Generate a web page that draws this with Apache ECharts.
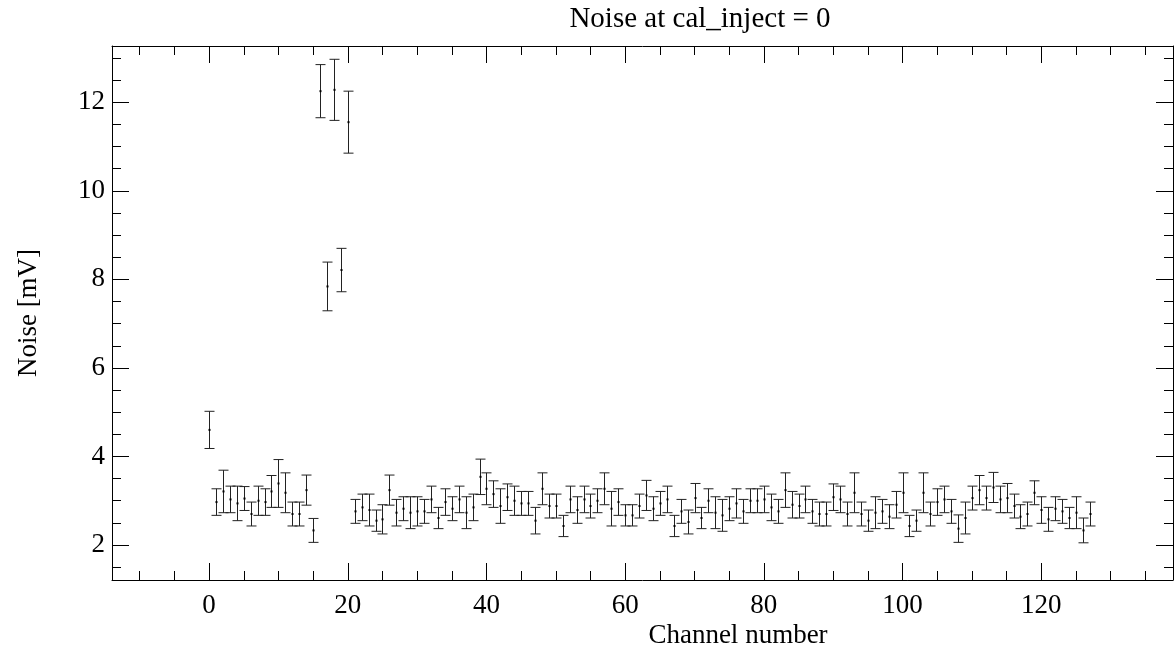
<!DOCTYPE html>
<html>
<head>
<meta charset="utf-8">
<script src="https://cdn.jsdelivr.net/npm/echarts@6.0.0/dist/echarts.min.js"></script>
<style>
  html, body { margin: 0; padding: 0; background: #fff; }
  #chart { width: 1174px; height: 658px; }
</style>
</head>
<body>
<div id="chart"></div>
<script>
// --- DATA ---
const channels = [
  0, 1, 2, 3, 4, 5, 6, 7, 8, 9, 10, 11, 12, 13, 14, 15, 16, 17, 18, 19,
  20, 21, 22, 23, 24, 25, 26, 27, 28, 29, 30, 31, 32, 33, 34, 35, 36, 37, 38, 39,
  40, 41, 42, 43, 44, 45, 46, 47, 48, 49, 50, 51, 52, 53, 54, 55, 56, 57, 58, 59,
  60, 61, 62, 63, 64, 65, 66, 67, 68, 69, 70, 71, 72, 73, 74, 75, 76, 77, 78, 79,
  80, 81, 82, 83, 84, 85, 86, 87, 88, 89, 90, 91, 92, 93, 94, 95, 96, 97, 98, 99,
  100, 101, 102, 103, 104, 105, 106, 107, 108, 109, 110, 111, 112, 113, 114, 115, 116, 117, 118, 119,
  120, 121, 122, 123, 124, 125, 126, 127
];
const noise = [
  4.60, 2.97, 3.21, 3.03, 2.94, 3.05, 2.70, 3.00, 2.97, 3.21, 3.39, 3.18, 2.70, 2.70, 3.24, 2.33, 12.25, 7.84, 12.28, 8.21,
  11.55, 2.76, 2.85, 2.79, 2.55, 2.58, 3.24, 2.73, 2.82, 2.73, 2.76, 2.76, 3.03, 2.61, 2.97, 2.82, 3.03, 2.73, 2.85, 3.54,
  3.27, 3.15, 2.88, 3.08, 3.00, 2.94, 2.94, 2.55, 3.27, 2.88, 2.88, 2.43, 3.03, 2.79, 3.03, 2.88, 3.00, 3.27, 2.82, 2.97,
  2.67, 2.67, 2.88, 3.12, 2.82, 2.94, 3.03, 2.43, 2.76, 2.52, 3.06, 2.61, 3.00, 2.73, 2.67, 2.82, 2.94, 2.76, 3.00, 3.00,
  3.03, 2.85, 2.76, 3.24, 2.91, 2.88, 3.03, 2.76, 2.70, 2.70, 3.08, 3.03, 2.70, 3.18, 2.70, 2.55, 2.73, 2.76, 2.64, 2.91,
  3.18, 2.43, 2.55, 3.18, 2.70, 2.97, 3.03, 2.76, 2.37, 2.61, 3.06, 3.24, 3.06, 3.30, 3.03, 3.06, 2.88, 2.64, 2.70, 3.18,
  2.79, 2.58, 2.82, 2.76, 2.61, 2.73, 2.33, 2.70
];
const noiseErr = [
  0.42, 0.30, 0.48, 0.30, 0.39, 0.27, 0.27, 0.33, 0.30, 0.36, 0.54, 0.45, 0.27, 0.27, 0.34, 0.27, 0.60, 0.55, 0.69, 0.49,
  0.70, 0.27, 0.30, 0.36, 0.24, 0.33, 0.34, 0.30, 0.27, 0.36, 0.33, 0.27, 0.30, 0.24, 0.30, 0.27, 0.30, 0.36, 0.30, 0.40,
  0.36, 0.30, 0.39, 0.30, 0.33, 0.27, 0.27, 0.30, 0.36, 0.27, 0.27, 0.24, 0.30, 0.30, 0.30, 0.27, 0.27, 0.36, 0.39, 0.30,
  0.24, 0.24, 0.27, 0.34, 0.27, 0.27, 0.30, 0.24, 0.27, 0.27, 0.33, 0.24, 0.27, 0.36, 0.36, 0.27, 0.33, 0.27, 0.27, 0.27,
  0.30, 0.30, 0.27, 0.39, 0.30, 0.27, 0.30, 0.27, 0.27, 0.27, 0.30, 0.30, 0.27, 0.45, 0.27, 0.24, 0.36, 0.27, 0.27, 0.30,
  0.45, 0.24, 0.24, 0.45, 0.27, 0.30, 0.30, 0.27, 0.31, 0.36, 0.27, 0.33, 0.27, 0.34, 0.30, 0.33, 0.27, 0.27, 0.27, 0.27,
  0.30, 0.27, 0.27, 0.27, 0.24, 0.36, 0.28, 0.27
];

const xMajorTicks = [0, 20, 40, 60, 80, 100, 120];
const xMinorTicks = [-10, -5, 5, 10, 15, 25, 30, 35, 45, 50, 55, 65, 70, 75, 85, 90, 95, 105, 110, 115, 125, 130, 135];
const yMajorTicks = [2, 4, 6, 8, 10, 12];
const yMinorTicks = [1.5, 2.5, 3, 3.5, 4.5, 5, 5.5, 6.5, 7, 7.5, 8.5, 9, 9.5, 10.5, 11, 11.5, 12.5, 13];

const X_MIN = -14, X_MAX = 139;
const Y_MIN = 1.21, Y_MAX = 13.27;

// --- STYLE ---
const FONT = '"Liberation Serif", "DejaVu Serif", serif';
const FONT_SIZE = 27;
const LINE = { color: '#000', width: 1 };

const makeAxis = (position, min, max, ticks, tickLen, withLine, withLabels, labelMargin) => ({
  type: 'value',
  position: position,
  min: min,
  max: max,
  gridIndex: 0,
  axisLine: { show: withLine, onZero: false, lineStyle: LINE },
  axisTick: { show: true, inside: true, length: tickLen, customValues: ticks, lineStyle: LINE },
  axisLabel: withLabels
    ? { show: true, customValues: ticks, color: '#000', fontFamily: FONT, fontSize: FONT_SIZE, margin: labelMargin }
    : { show: false },
  splitLine: { show: false },
  minorTick: { show: false }
});

const errData = channels.map((c, i) => [c, noise[i], noiseErr[i]]);

const renderErrorBar = (params, api) => {
  const x = api.value(0), y = api.value(1), e = api.value(2);
  const hi = api.coord([x, y + e]);
  const lo = api.coord([x, y - e]);
  const mid = api.coord([x, y]);
  const px = Math.round(hi[0]) + 0.5;
  const cap = 5;
  const style = { stroke: '#222', lineWidth: 1 };
  return {
    type: 'group',
    children: [
      { type: 'line', shape: { x1: px, y1: hi[1], x2: px, y2: lo[1] }, style: style },
      { type: 'line', shape: { x1: px - cap, y1: hi[1], x2: px + cap, y2: hi[1] }, style: style },
      { type: 'line', shape: { x1: px - cap, y1: lo[1], x2: px + cap, y2: lo[1] }, style: style },
      { type: 'rect', shape: { x: px - 1, y: mid[1] - 1, width: 2, height: 2 }, style: { fill: '#000' } }
    ]
  };
};

const chart = echarts.init(document.getElementById('chart'), null, { renderer: 'canvas' });

chart.setOption({
  backgroundColor: '#fff',
  animation: false,
  grid: { left: 112, right: 1, top: 46, bottom: 78, containLabel: false },
  xAxis: [
    makeAxis('bottom', X_MIN, X_MAX, xMajorTicks, 17, true, true, 12),
    makeAxis('bottom', X_MIN, X_MAX, xMinorTicks, 9, false, false),
    makeAxis('top', X_MIN, X_MAX, xMajorTicks, 17, true, false),
    makeAxis('top', X_MIN, X_MAX, xMinorTicks, 9, false, false)
  ],
  yAxis: [
    makeAxis('left', Y_MIN, Y_MAX, yMajorTicks, 17, true, true, 7),
    makeAxis('left', Y_MIN, Y_MAX, yMinorTicks, 9, false, false),
    makeAxis('right', Y_MIN, Y_MAX, yMajorTicks, 17, true, false),
    makeAxis('right', Y_MIN, Y_MAX, yMajorTicks.length ? yMinorTicks : [], 9, false, false)
  ],
  graphic: [
    { type: 'text', x: 700, y: 19, style: { text: 'Noise at cal_inject = 0', font: '29px ' + FONT, fill: '#000', textAlign: 'center', textVerticalAlign: 'middle' } },
    { type: 'text', x: 738, y: 622, style: { text: 'Channel number', font: FONT_SIZE + 'px ' + FONT, fill: '#000', textAlign: 'center', textVerticalAlign: 'top' } },
    { type: 'text', x: 29, y: 313, rotation: Math.PI / 2, style: { text: 'Noise [mV]', font: FONT_SIZE + 'px ' + FONT, fill: '#000', textAlign: 'center', textVerticalAlign: 'middle' } }
  ],
  series: [{
    type: 'custom',
    xAxisIndex: 0,
    yAxisIndex: 0,
    data: errData,
    encode: { x: 0, y: 1 },
    renderItem: renderErrorBar,
    clip: true
  }]
});
</script>
</body>
</html>
